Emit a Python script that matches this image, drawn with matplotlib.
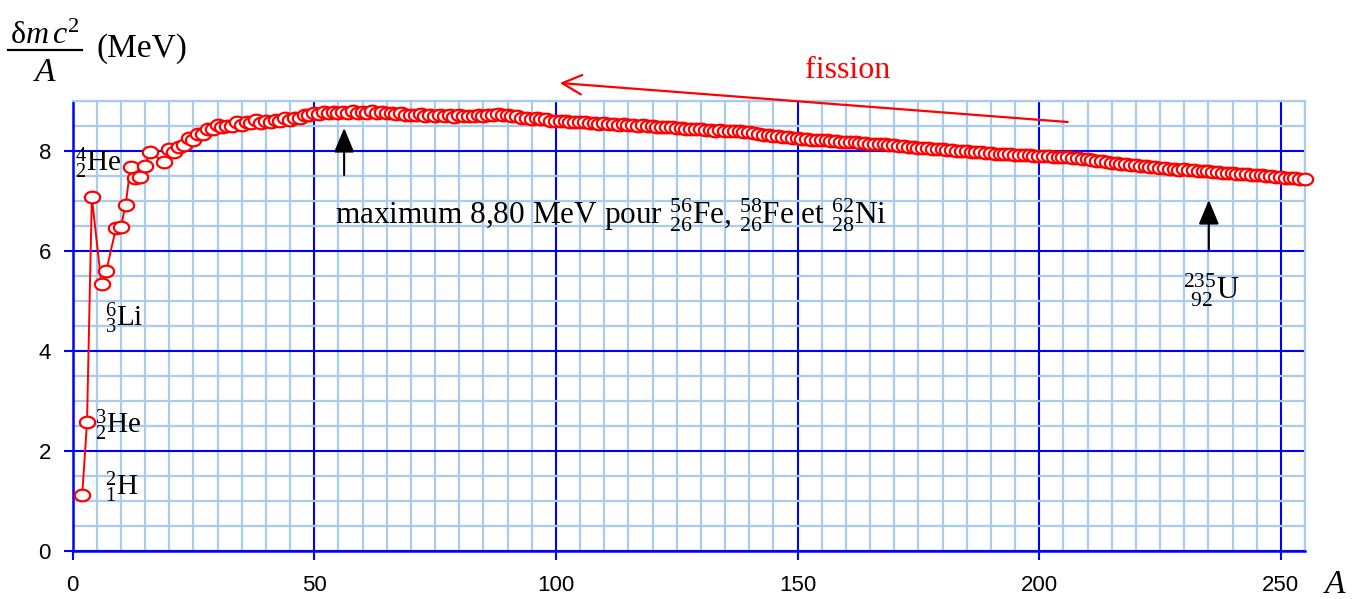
import matplotlib
matplotlib.use("Agg")
import matplotlib.pyplot as plt
from matplotlib.path import Path
from matplotlib.lines import Line2D
import numpy as np

# ---------------- data ----------------
mass_number = [2, 3, 4, 6, 7, 9, 10, 11, 12, 13, 14, 15, 16] + list(range(19, 256))

be_light = [1.112, 2.573, 7.074, 5.332, 5.606, 6.463, 6.475, 6.928, 7.680, 7.470,
            7.476, 7.699, 7.976]
be_19_100 = [7.779, 8.032, 7.972, 8.081, 8.112, 8.261, 8.224, 8.334, 8.332, 8.448,
             8.449, 8.521, 8.481, 8.493, 8.498, 8.584, 8.520, 8.576, 8.570, 8.614,
             8.557, 8.595, 8.576, 8.617, 8.600, 8.658, 8.619, 8.669, 8.661, 8.723,
             8.711, 8.756, 8.742, 8.776, 8.760, 8.778, 8.765, 8.790, 8.770, 8.792,
             8.768, 8.781, 8.765, 8.795, 8.752, 8.777, 8.757, 8.760, 8.734, 8.756,
             8.725, 8.730, 8.718, 8.732, 8.705, 8.725, 8.701, 8.711, 8.695, 8.718,
             8.688, 8.711, 8.696, 8.693, 8.696, 8.718, 8.697, 8.712, 8.711, 8.733,
             8.714, 8.710, 8.693, 8.693, 8.664, 8.667, 8.649, 8.654, 8.635, 8.635,
             8.608, 8.605]
be_101_200 = [8.601, 8.607, 8.584, 8.585, 8.571, 8.580, 8.554, 8.567, 8.548, 8.551,
              8.537, 8.545, 8.527, 8.532, 8.517, 8.523, 8.510, 8.517, 8.500, 8.505,
              8.482, 8.488, 8.472, 8.473, 8.458, 8.463, 8.445, 8.449, 8.431, 8.438,
              8.424, 8.428, 8.410, 8.414, 8.398, 8.403, 8.392, 8.394, 8.378, 8.376,
              8.354, 8.346, 8.330, 8.327, 8.309, 8.304, 8.281, 8.280, 8.263, 8.262,
              8.239, 8.244, 8.229, 8.227, 8.213, 8.215, 8.204, 8.202, 8.189, 8.184,
              8.173, 8.174, 8.162, 8.159, 8.147, 8.142, 8.132, 8.130, 8.115, 8.112,
              8.098, 8.097, 8.087, 8.084, 8.069, 8.064, 8.052, 8.049, 8.039, 8.035,
              8.023, 8.018, 8.008, 8.005, 7.991, 7.989, 7.974, 7.973, 7.963, 7.962,
              7.948, 7.948, 7.938, 7.936, 7.927, 7.927, 7.916, 7.912, 7.905, 7.906]
be_201_255 = [7.898, 7.897, 7.887, 7.886, 7.878, 7.875, 7.870, 7.868, 7.848, 7.834,
              7.817, 7.804, 7.791, 7.785, 7.768, 7.763, 7.745, 7.739, 7.725, 7.717,
              7.703, 7.695, 7.682, 7.675, 7.662, 7.662, 7.650, 7.640, 7.628, 7.631,
              7.618, 7.615, 7.604, 7.601, 7.591, 7.586, 7.576, 7.570, 7.560, 7.556,
              7.546, 7.542, 7.531, 7.525, 7.516, 7.512, 7.501, 7.497, 7.486, 7.482,
              7.470, 7.465, 7.455, 7.450, 7.440]
binding_per_nucleon = be_light + be_19_100 + be_101_200 + be_201_255

x_ticks = [0, 50, 100, 150, 200, 250]
y_ticks = [0, 2, 4, 6, 8]

# ---------------- style ----------------
plt.rcParams['font.family'] = ['Liberation Serif', 'DejaVu Serif']
plt.rcParams['mathtext.fontset'] = 'custom'
plt.rcParams['mathtext.rm'] = 'Liberation Serif'
plt.rcParams['mathtext.it'] = 'Liberation Serif:italic'
plt.rcParams['mathtext.bf'] = 'Liberation Serif:bold'

BLUE = '#0000FF'
LIGHT = '#A9CBEE'
RED = '#FF0000'

W, H = 1357, 599
fig = plt.figure(figsize=(W / 100, H / 100), dpi=100)
ax = fig.add_axes([72.5 / W, 48 / H, (1305 - 72.5) / W, 450 / H])

ax.set_xlim(0, 255)
ax.set_ylim(0, 9)

ax.set_xticks(x_ticks)
ax.set_yticks(y_ticks)
ax.set_xticks(np.arange(0, 256, 5), minor=True)
ax.set_yticks(np.arange(0, 9.01, 0.5), minor=True)
ax.grid(which='minor', color=LIGHT, linewidth=1.6, zorder=0)
ax.grid(which='major', color=BLUE, linewidth=1.5, zorder=1)
ax.set_axisbelow(True)

for s in ['top', 'right']:
    ax.spines[s].set_color(LIGHT)
    ax.spines[s].set_linewidth(1.6)
for s in ['left', 'bottom']:
    ax.spines[s].set_color(BLUE)
    ax.spines[s].set_linewidth(1.8)

ax.tick_params(which='major', direction='out', length=6.5, width=1.5, color=BLUE,
               labelsize=16)
ax.tick_params(axis='x', which='major', pad=11)
ax.tick_params(axis='y', which='major', pad=9)
ax.tick_params(which='minor', length=0)
for lab in ax.get_xticklabels() + ax.get_yticklabels():
    lab.set_fontfamily('Liberation Sans')

# elliptical open marker
t = np.linspace(0, 2 * np.pi, 60)
ellipse = Path(np.column_stack([np.cos(t), 0.76 * np.sin(t)]), closed=True)

ax.plot(mass_number, binding_per_nucleon, color=RED, linewidth=1.4,
        marker=ellipse, markersize=11, markerfacecolor='white',
        markeredgecolor=RED, markeredgewidth=1.6, zorder=3, clip_on=False)

# ---------------- annotations ----------------
FS = 21
ax.text(0.5, 7.76, r'${}^{4}_{2}$He', fontsize=FS, ha='left', va='center', zorder=5)
ax.text(6.7, 4.66, r'${}^{6}_{3}$Li', fontsize=FS, ha='left', va='center', zorder=5)
ax.text(4.7, 2.52, r'${}^{3}_{2}$He', fontsize=FS, ha='left', va='center', zorder=5)
ax.text(6.7, 1.28, r'${}^{2}_{1}$H', fontsize=FS, ha='left', va='center', zorder=5)
ax.text(54.3, 6.72,
        r'maximum 8,80 MeV pour ${}^{56}_{26}$Fe, ${}^{58}_{26}$Fe et ${}^{62}_{28}$Ni',
        fontsize=22.5, ha='left', va='center', zorder=5)
ax.text(229.8, 5.22, r'${}^{235}_{\enspace 92}$U', fontsize=22, ha='left',
        va='center', zorder=5)

ax.annotate('', xy=(56.2, 8.46), xytext=(56.2, 7.52),
            arrowprops=dict(arrowstyle='-|>,head_length=0.6,head_width=0.25',
                            color='black', lw=1.5,
                            mutation_scale=25, shrinkA=0, shrinkB=0), zorder=5)
ax.annotate('', xy=(235.1, 7.02), xytext=(235.1, 6.02),
            arrowprops=dict(arrowstyle='-|>,head_length=0.6,head_width=0.25',
                            color='black', lw=1.5,
                            mutation_scale=25, shrinkA=0, shrinkB=0), zorder=5)

ax.annotate('', xy=(100.8, 9.36), xytext=(205.9, 8.58), annotation_clip=False,
            arrowprops=dict(arrowstyle='->,head_length=0.5,head_width=0.25',
                            color=RED, lw=1.6,
                            mutation_scale=28, shrinkA=0, shrinkB=0), zorder=5)
ax.text(160.4, 9.62, 'fission', color=RED, fontsize=23, ha='center', va='center',
        clip_on=False)

# y-axis label: fraction drawn by hand
fig.text(45 / W, 1 - 44 / H, r'δ$m\,c^{2}$', fontsize=23, ha='center',
         va='baseline')
fig.add_artist(Line2D([8 / W, 82 / W], [1 - 50 / H, 1 - 50 / H], color='black',
                      linewidth=1.6, transform=fig.transFigure))
fig.text(45 / W, 1 - 81 / H, 'A', fontsize=24, style='italic', ha='center',
         va='baseline')
fig.text(97 / W, 1 - 49 / H, '(MeV)', fontsize=24, ha='left', va='center')
fig.text(1335 / W, 1 - 585 / H, 'A', fontsize=24, style='italic',
         ha='center', va='center')

fig.savefig('out.png', dpi=100)
